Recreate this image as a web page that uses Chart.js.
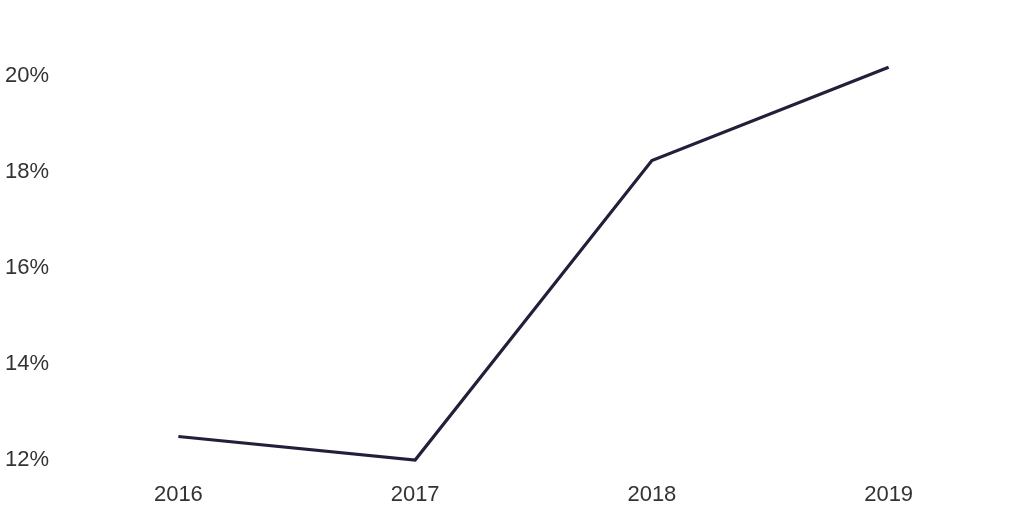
<!DOCTYPE html>
<html lang="en">
<head>
    <meta charset="UTF-8">
    <title>Line chart 2016-2019</title>
    <script src="https://cdn.jsdelivr.net/npm/chart.js"></script>
    <style>
        html, body {
            margin: 0;
            padding: 0;
            background: #fff;
        }
        #wrap {
            width: 1024px;
            height: 512px;
        }
    </style>
</head>
<body>

<div id="wrap">
    <canvas id="lineChart"></canvas>
</div>

<script>
    const years = ['2016', '2017', '2018', '2019'];
    const shares = [12.49, 12.0, 18.24, 20.18];
    const yTicks = [12, 14, 16, 18, 20];

    const ctx = document.getElementById('lineChart').getContext('2d');

    new Chart(ctx, {
        type: 'line',
        data: {
            labels: years,
            datasets: [{
                data: shares,
                borderColor: '#231f3a',
                borderWidth: 3.2,
                pointRadius: 0,
                tension: 0,
                fill: false,
                clip: false
            }]
        },
        options: {
            responsive: true,
            maintainAspectRatio: false,
            animation: false,
            layout: {
                padding: { top: 0, right: 17, bottom: 2, left: 5 }
            },
            plugins: {
                legend: { display: false },
                tooltip: { enabled: false }
            },
            scales: {
                x: {
                    offset: true,
                    grid: { display: false, drawTicks: false },
                    border: { display: false },
                    afterFit: axis => { axis.height = 50; },
                    ticks: {
                        color: '#333333',
                        padding: 22,
                        font: { family: 'Liberation Sans', size: 22 }
                    }
                },
                y: {
                    min: 12,
                    max: 21.1,
                    grid: { display: false, drawTicks: false },
                    border: { display: false },
                    afterBuildTicks: axis => {
                        axis.ticks = yTicks.map(v => ({ value: v }));
                    },
                    afterFit: axis => { axis.width = 55; },
                    ticks: {
                        color: '#333333',
                        padding: 10,
                        crossAlign: 'far',
                        font: { family: 'Liberation Sans', size: 22 },
                        callback: v => v + '%'
                    }
                }
            }
        }
    });
</script>

</body>
</html>
